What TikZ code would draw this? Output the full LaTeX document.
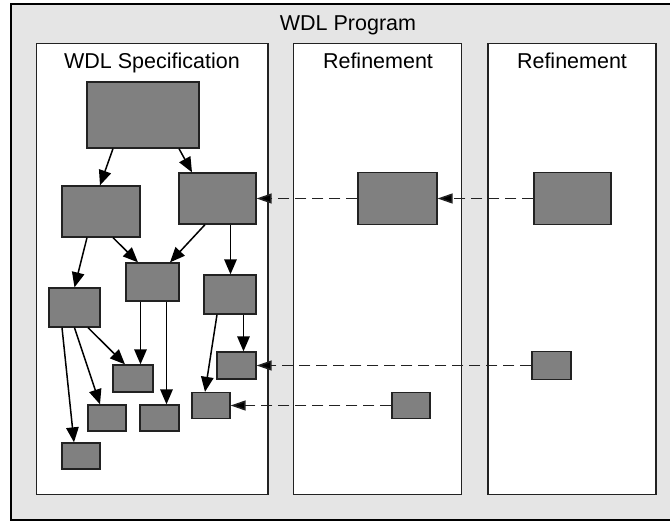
\documentclass[tikz,border=0pt]{standalone}
\usepackage{fontspec}
\setmainfont{Liberation Sans}
\usetikzlibrary{arrows.meta}
\definecolor{panelgray}{HTML}{E5E5E5}
\definecolor{boxgray}{HTML}{808080}
\definecolor{edgedark}{HTML}{222222}
\tikzset{
  blk/.style={draw=edgedark, fill=boxgray, line width=1.3pt, inner sep=0pt, rectangle},
  flow/.style={line width=1.5pt, -{Triangle[length=15pt,width=12.5pt]}},
  refine/.style={line width=1.5pt, draw=edgedark, dash pattern=on 11pt off 6pt,
    -{Triangle[length=15pt,width=10pt,fill=black]}},
  paneltitle/.style={anchor=base, font=\fontsize{21.5}{24}\selectfont, inner sep=0pt},
}
\begin{document}
\begin{tikzpicture}[x=1pt, y=-1pt]
  \useasboundingbox (0,0) rectangle (670,521);
  \clip (0,0) rectangle (670,521);
  % outer program frame
  \draw[line width=2pt, draw=black, fill=panelgray] (11,4.5) rectangle (684,519.5);
  \node[anchor=base, font=\fontsize{21.5}{24}\selectfont, inner sep=0pt] (prog) at (348,31) {WDL Program};
  % three panels
  \draw[line width=1.6pt, draw=edgedark, fill=white] (36.5,43.5) rectangle (268,494.5);
  \draw[line width=1.6pt, draw=edgedark, fill=white] (293.5,43.5) rectangle (461.5,494.5);
  \draw[line width=1.6pt, draw=edgedark, fill=white] (488,43.5) rectangle (656,494.5);
  \node[paneltitle] (t1) at (152,69) {WDL Specification};
  \node[paneltitle] (t2) at (378,69) {Refinement};
  \node[paneltitle] (t3) at (572,69) {Refinement};
  % specification blocks
  \node[blk, minimum width=112pt, minimum height=66pt] (top) at (143,115) {};
  \node[blk, minimum width=78pt, minimum height=51pt] (A) at (101,211.5) {};
  \node[blk, minimum width=77pt, minimum height=51pt] (B) at (217.5,198.5) {};
  \node[blk, minimum width=53pt, minimum height=38pt] (C) at (152.5,282) {};
  \node[blk, minimum width=51pt, minimum height=39pt] (D) at (74.5,307.5) {};
  \node[blk, minimum width=52pt, minimum height=39pt] (E) at (230,294.5) {};
  \node[blk, minimum width=39pt, minimum height=27pt] (F) at (236.5,365.5) {};
  \node[blk, minimum width=40pt, minimum height=27pt] (G) at (133,378.5) {};
  \node[blk, minimum width=38pt, minimum height=26pt] (H) at (107,418) {};
  \node[blk, minimum width=39pt, minimum height=26pt] (I) at (159.5,418) {};
  \node[blk, minimum width=38pt, minimum height=26pt] (J) at (211,405.5) {};
  \node[blk, minimum width=38pt, minimum height=26pt] (K) at (81,456) {};
  % refinement blocks
  \node[blk, minimum width=79pt, minimum height=52pt] (R1) at (397.5,198.5) {};
  \node[blk, minimum width=77pt, minimum height=52pt] (R2) at (572.5,198.5) {};
  \node[blk, minimum width=39pt, minimum height=28pt] (R3) at (551.5,365.5) {};
  \node[blk, minimum width=38pt, minimum height=26pt] (R4) at (411,405.5) {};
  % dependencies inside the specification
  \draw[flow] ([xshift=-30pt]top.south) -- ([xshift=-1pt]A.north);
  \draw[flow] ([xshift=36pt]top.south) -- ([xshift=-25.5pt]B.north);
  \draw[flow] ([xshift=12pt]A.south) -- ([xshift=-14.5pt]C.north);
  \draw[flow] ([xshift=-12.5pt]B.south) -- ([xshift=17.5pt]C.north);
  \draw[flow] ([xshift=13pt]B.south) -- ([xshift=0.5pt]E.north);
  \draw[flow] ([xshift=-14pt]A.south) -- (D.north);
  \draw[flow] ([xshift=-12pt]C.south) -- ([xshift=7.5pt]G.north);
  \draw[flow] ([xshift=14pt]C.south) -- ([xshift=7pt]I.north);
  \draw[flow] ([xshift=13.5pt]D.south) -- ([xshift=-8pt]G.north);
  \draw[flow] (D.south) -- ([xshift=-7pt]H.north);
  \draw[flow] ([xshift=-12.5pt]D.south) -- ([xshift=-7pt]K.north);
  \draw[flow] ([xshift=-13pt]E.south) -- ([xshift=-6pt]J.north);
  \draw[flow] ([xshift=13.5pt]E.south) -- ([xshift=7pt]F.north);
  % refinement links
  \draw[refine] (R1.west) -- (B.east);
  \draw[refine] (R2.west) -- (R1.east);
  \draw[refine] (R3.west) -- (F.east);
  \draw[refine] (R4.west) -- (J.east);
\end{tikzpicture}
\end{document}
